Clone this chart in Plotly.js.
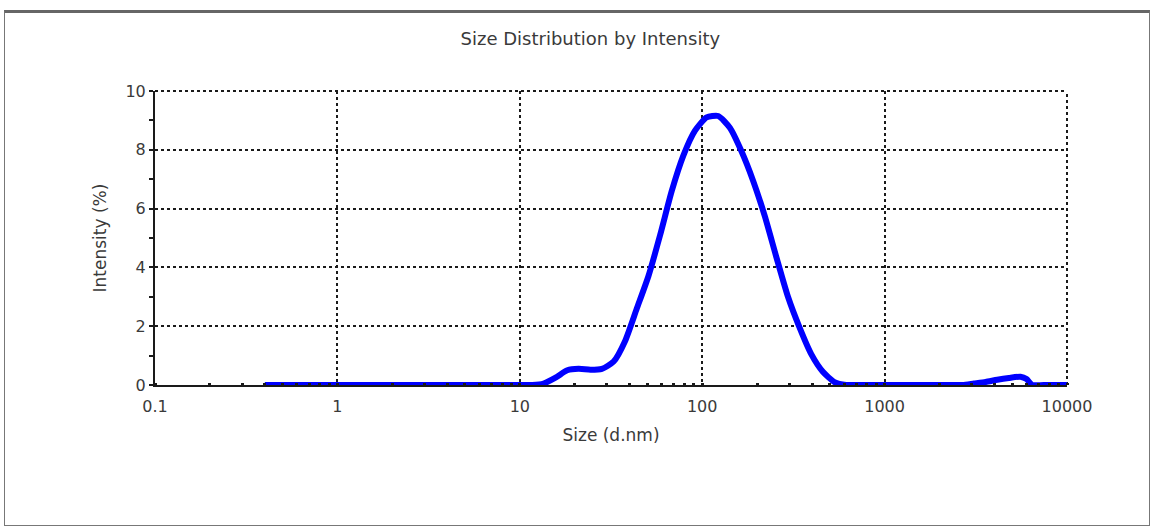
<!DOCTYPE html>
<html>
<head>
<meta charset="utf-8">
<script src="https://cdn.plot.ly/plotly-3.0.1.min.js"></script>
<style>
  html, body { margin: 0; padding: 0; background: #fff; }
  #wrap { position: relative; width: 1153px; height: 526px; }
  #chart { width: 1153px; height: 526px; }
  #frame { position: absolute; left: 4px; top: 10px; width: 1144px; height: 512px;
           border: 1px solid #777; border-top: 3px solid #666; pointer-events: none; }
</style>
</head>
<body>
<div id="wrap">
  <div id="chart"></div>
  <div id="frame"></div>
</div>
<script>
// Size (d.nm) and intensity (%)
const sizes = [0.4, 1, 5, 10, 11.7, 13.5, 15.7, 18.2, 21, 24.4, 28.2, 32.7, 37.8, 43.8, 50.7,
  58.8, 68.1, 78.8, 91.3, 105.7, 122.4, 141.8, 164.2, 190.1, 220.2, 255, 295.3, 342, 396.1,
  458.7, 531.2, 615.1, 712.4, 1000, 2000, 2669, 3091, 3580, 4145, 4801, 5560, 6000, 6439, 7456, 10000];
const intensity = [0, 0, 0, 0, 0, 0.05, 0.25, 0.5, 0.55, 0.52, 0.55, 0.8, 1.5, 2.6, 3.7,
  5.1, 6.6, 7.8, 8.65, 9.1, 9.15, 8.75, 7.95, 6.95, 5.75, 4.35, 3.0, 1.95, 1.05,
  0.45, 0.1, 0, 0, 0, 0, 0, 0.05, 0.1, 0.18, 0.24, 0.28, 0.2, 0, 0, 0];

const xTickVals = [0.1, 1, 10, 100, 1000, 10000];
const xTickText = ["0.1", "1", "10", "100", "1000", "10000"];
const yTickVals = [0, 2, 4, 6, 8, 10];

const titleText = "Size Distribution by Intensity";
const xTitle = "Size (d.nm)";
const yTitle = "Intensity (%)";

const font = "DejaVu Sans, Verdana, sans-serif";
const txt = "#3a3a3a";
const ink = "#1a1a1a";

const trace = {
  x: sizes, y: intensity, type: "scatter", mode: "lines",
  line: { color: "#0000ff", width: 6, shape: "spline", smoothing: 0.6 },
  hoverinfo: "skip"
};

const layout = {
  width: 1153, height: 526,
  margin: { l: 155, r: 86, t: 91, b: 141 },
  paper_bgcolor: "#fff", plot_bgcolor: "#fff",
  showlegend: false,
  font: { family: font, size: 16, color: txt },
  title: { text: titleText, x: 0.512, xanchor: "center", y: 1 - 39/526, yanchor: "middle",
           font: { family: font, size: 18, color: txt } },
  xaxis: {
    type: "log", range: [-1, 4], tickmode: "array", tickvals: xTickVals, ticktext: xTickText,
    showline: true, linecolor: ink, linewidth: 2,
    ticks: "", ticklabelstandoff: 6,
    showgrid: true, gridcolor: ink, gridwidth: 2, griddash: "dot",
    zeroline: false,
    minor: { dtick: "D1", ticks: "inside", ticklen: 2, tickwidth: 3, tickcolor: ink, showgrid: false },
    tickfont: { family: font, size: 16, color: txt },
    title: { text: xTitle, standoff: 14, font: { family: font, size: 17, color: txt } }
  },
  yaxis: {
    range: [0, 10], tickmode: "array", tickvals: yTickVals,
    showline: true, linecolor: ink, linewidth: 2,
    ticks: "outside", ticklen: 4, tickwidth: 2, tickcolor: ink,
    showgrid: true, gridcolor: ink, gridwidth: 2, griddash: "dot",
    zeroline: false,
    minor: { dtick: 1, ticks: "outside", ticklen: 4, tickwidth: 2, tickcolor: ink, showgrid: false },
    tickfont: { family: font, size: 16, color: txt },
    title: { text: yTitle, standoff: 14, font: { family: font, size: 17, color: txt } }
  },
  shapes: [
    { type: "line", xref: "paper", yref: "paper", x0: 0, x1: 1, y0: 1, y1: 1,
      line: { color: ink, width: 2, dash: "dot" }, layer: "below" },
    { type: "line", xref: "paper", yref: "paper", x0: 1, x1: 1, y0: 0, y1: 1,
      line: { color: ink, width: 2, dash: "dot" }, layer: "below" }
  ]
};

Plotly.newPlot("chart", [trace], layout, { displayModeBar: false, staticPlot: true });
</script>
</body>
</html>
